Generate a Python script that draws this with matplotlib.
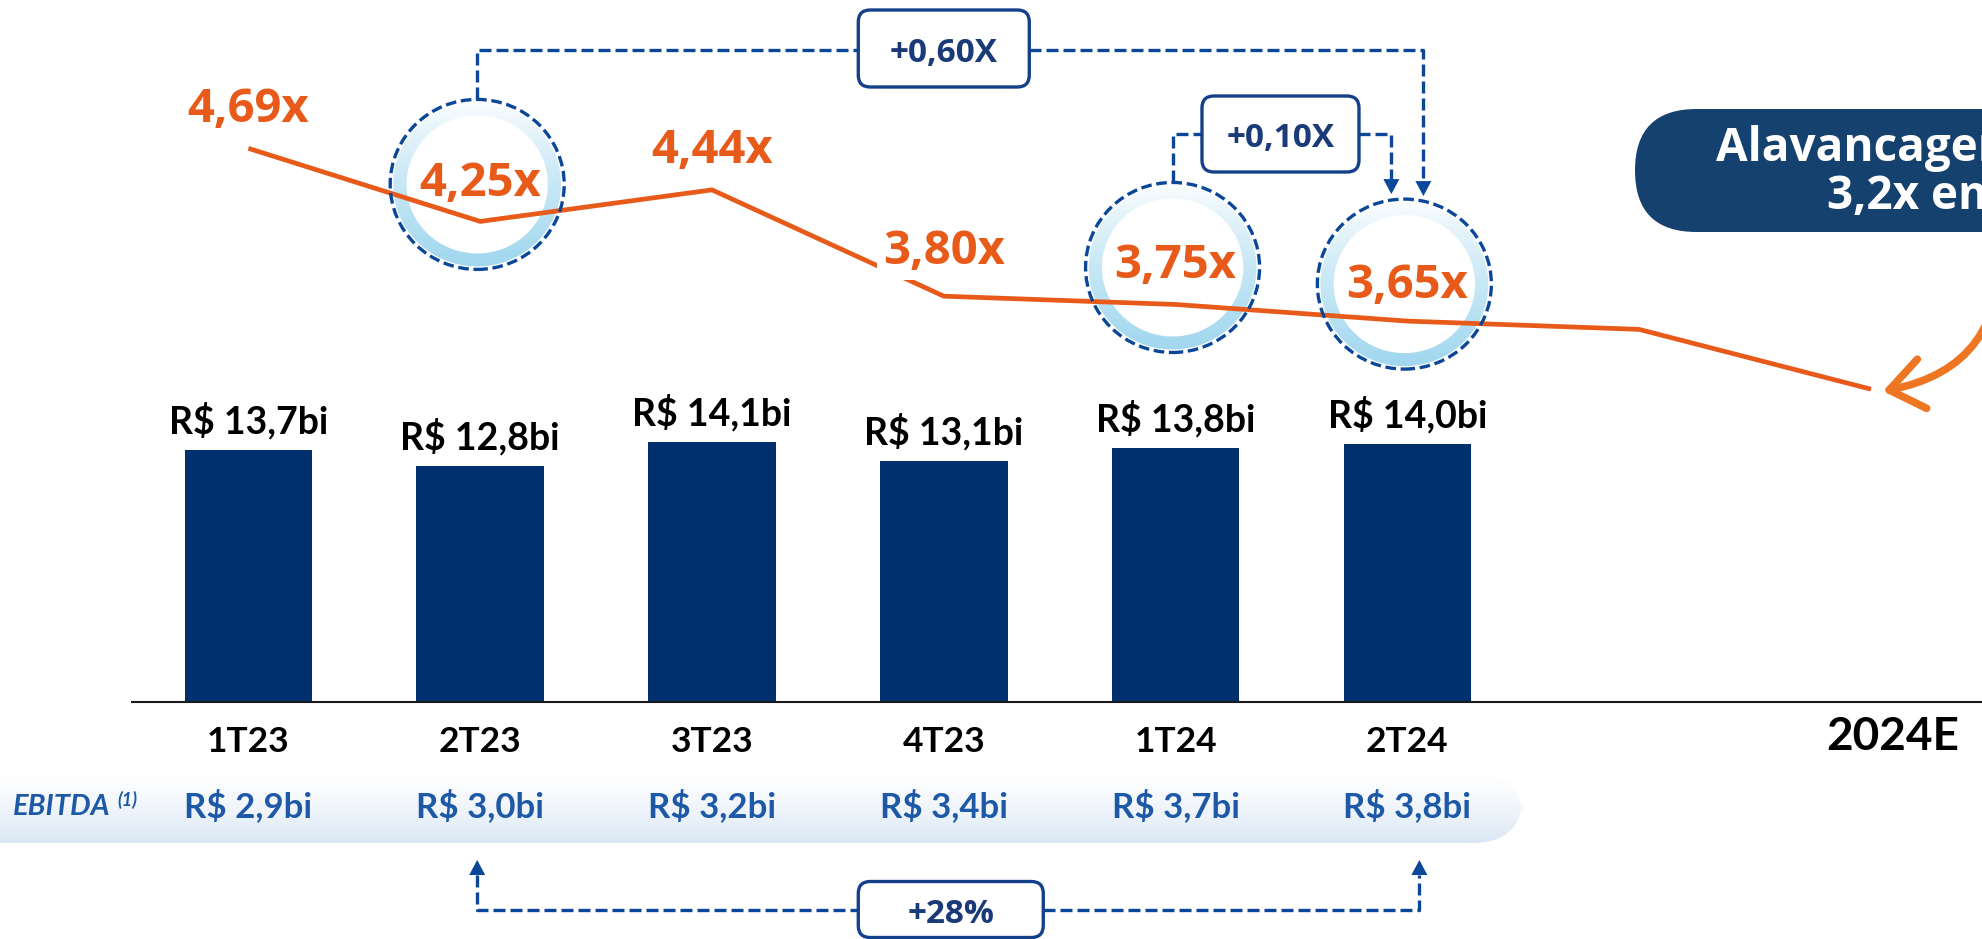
import numpy as np
import matplotlib
matplotlib.use("Agg")
import matplotlib.pyplot as plt
from matplotlib.patches import FancyBboxPatch, Ellipse, Polygon, FancyArrowPatch
from matplotlib import font_manager

# ---------------- data ----------------
quarters = ["1T23", "2T23", "3T23", "4T23", "1T24", "2T24"]
net_debt_bi = [13.7, 12.8, 14.1, 13.1, 13.8, 14.0]
debt_labels = ["R$ 13,7bi", "R$ 12,8bi", "R$ 14,1bi", "R$ 13,1bi", "R$ 13,8bi", "R$ 14,0bi"]
ebitda_labels = ["R$ 2,9bi", "R$ 3,0bi", "R$ 3,2bi", "R$ 3,4bi", "R$ 3,7bi", "R$ 3,8bi"]
leverage = [4.69, 4.25, 4.44, 3.80, 3.75, 3.65, 3.60, 3.24]
leverage_labels = ["4,69x", "4,25x", "4,44x", "3,80x", "3,75x", "3,65x"]
forecast_label = "2024E"
highlight_idx = [1, 4, 5]
delta_labels = ["+0,60X", "+0,10X", "+28%"]
ebitda_title = "EBITDA"
ebitda_note = "(1)"
callout_lines = ["Alavancagem esperada", "3,2x em 2024"]

# ---------------- style ----------------
W, H = 1982, 939
BAR_C = "#00306E"
ORANGE = "#E85A19"
ORANGE2 = "#EE7623"
DASH_C = "#0A4799"
BOX_EC = "#14408A"
BOX_TXT = "#1B3A78"
EB_BLUE = "#1D59A6"
PILL_C = "#15416F"


def fam(*names):
    avail = {f.name for f in font_manager.fontManager.ttflist}
    for n in names:
        if n in avail:
            return n
    return "DejaVu Sans"


F_CAL = fam("Lato", "Open Sans", "DejaVu Sans")
F_SEG = fam("Open Sans", "Noto Sans", "DejaVu Sans")

fig = plt.figure(figsize=(W / 100, H / 100), dpi=100)
fig.patch.set_facecolor("white")

axb = fig.add_axes([0, 0, 1, 1], label="back")
ax = fig.add_axes([0, 0, 1, 1], label="bars")
ax2 = ax.twinx()
axf = fig.add_axes([0, 0, 1, 1], label="front")
axb.set_zorder(0)
ax.set_zorder(1)
ax2.set_zorder(2)
axf.set_zorder(3)
for a in (axb, axf):
    a.set_xlim(0, W)
    a.set_ylim(0, H)
    a.axis("off")
    a.patch.set_visible(False)
ax.patch.set_visible(False)
ax.set_xlim(-1.0716, 7.479)
ax.set_ylim(-12.92, 38.17)
ax2.set_ylim(-0.070, 5.583)
ax.axis("off")
ax2.axis("off")


def up(y):
    return H - y


x6 = np.arange(len(quarters))
xl = np.arange(len(leverage))

# ---------------- bars ----------------
ax.bar(x6, net_debt_bi, width=0.55, color=BAR_C, zorder=2)
ax.plot([-0.5, 8], [0, 0], color="#1a1a1a", lw=1.5, zorder=3, clip_on=True)
for i, (v, lab) in enumerate(zip(net_debt_bi, debt_labels)):
    ax.annotate(lab, (i, v), xytext=(0, 12), textcoords="offset points",
                ha="center", va="baseline", fontsize=27, fontweight="bold",
                family=F_CAL, color="black", zorder=4)
for i, q in enumerate(quarters):
    ax.annotate(q, (i, 0), xytext=(0, -36.1), textcoords="offset points",
                ha="center", va="baseline", fontsize=25.5, fontweight="bold",
                family=F_CAL, color="black")
    ax.annotate(ebitda_labels[i], (i, 0), xytext=(0, -82.9), textcoords="offset points",
                ha="center", va="baseline", fontsize=25, fontweight="bold",
                family=F_CAL, color=EB_BLUE, zorder=4)
ax.annotate(forecast_label, (xl[-1], 0), xytext=(16, -34.9), textcoords="offset points",
            ha="center", va="baseline", fontsize=33, fontweight="bold",
            family=F_CAL, color="black")

# EBITDA band (gradient, rounded bottom-right)
band_top, band_bot, band_right = 772, 843, 1523
grad = np.linspace(0, 1, 100) ** 1.3
c0 = np.array([1.0, 1.0, 1.0])
c1 = np.array([0xDA, 0xE7, 0xF4]) / 255
img = (c0[None, :] * (1 - grad[:, None]) + c1[None, :] * grad[:, None])[:, None, :]
img = np.repeat(img, 2, axis=1)
im = axb.imshow(img, extent=(-100, band_right, up(band_bot), up(band_top)),
                origin="upper", aspect="auto", interpolation="bilinear", zorder=0)
clip = FancyBboxPatch((-100, up(band_bot)), band_right + 100, band_bot - band_top,
                      boxstyle="round,pad=0,rounding_size=50", fc="none", ec="none",
                      transform=axb.transData)
axb.add_patch(clip)
im.set_clip_path(clip)
axb.set_xlim(0, W)
axb.set_ylim(0, H)
axf.text(13, up(815), ebitda_title, ha="left", va="baseline", fontsize=21,
         fontweight="bold", style="italic", family=F_CAL, color=EB_BLUE)
axf.text(117, up(806), ebitda_note, ha="left", va="baseline", fontsize=13,
         fontweight="bold", style="italic", family=F_CAL, color=EB_BLUE)

# ---------------- leverage line ----------------
ax2.plot(xl, leverage, color=ORANGE, lw=3.4, solid_joinstyle="miter",
         solid_capstyle="butt", zorder=3)
lab_off = [19.1, 18.6, 19.1, 23.5, 19.1, 16.4]
for i, lab in enumerate(leverage_labels):
    kw = {}
    if i == 3:
        kw["bbox"] = dict(fc="white", ec="none", pad=4)
    ax2.annotate(lab, (i, leverage[i]), xytext=(0, lab_off[i]), textcoords="offset points",
                 ha="center", va="baseline", fontsize=34, fontweight="bold",
                 family=F_SEG, color=ORANGE, zorder=5, **kw)

# ---------------- highlight circles ----------------
RX, RY = 87, 85
centers = {}
for i in highlight_idx:
    px, py = ax2.transData.transform((xl[i], leverage[i]))
    cx, cy = px - 3, py + 37
    centers[i] = (cx, cy)
    pad = 3
    xs = np.arange(np.floor(cx - RX - pad), np.ceil(cx + RX + pad))
    ys = np.arange(np.floor(cy - RY - pad), np.ceil(cy + RY + pad))
    X, Y = np.meshgrid(xs + 0.5, ys + 0.5)
    d = np.sqrt(((X - cx) / RX) ** 2 + ((Y - cy) / RY) ** 2)
    r_in = (1 - d) * min(RX, RY)
    a_ring = np.clip(r_in - 2.5, 0, 1) * np.clip(16.5 - r_in, 0, 1)
    s = np.clip((cy + RY - Y) / (2 * RY), 0, 1)
    alpha = a_ring * s ** 0.8
    rgba = np.zeros(X.shape + (4,))
    rgba[..., 0], rgba[..., 1], rgba[..., 2] = 0.62, 0.84, 0.94
    rgba[..., 3] = alpha
    axb.imshow(rgba, extent=(xs[0], xs[-1] + 1, ys[0], ys[-1] + 1), origin="lower",
               aspect="auto", interpolation="bilinear", zorder=1)
    axf.add_patch(Ellipse((cx, cy), 2 * RX, 2 * RY, fill=False, ec=DASH_C, lw=2.4,
                          ls=(0, (3.2, 1.4))))
axb.set_xlim(0, W)
axb.set_ylim(0, H)

DASH = (0, (3.6, 1.5))


def dline(pts):
    pts = np.array(pts)
    axf.plot(pts[:, 0], pts[:, 1], color=DASH_C, lw=2.4, ls=DASH,
             solid_capstyle="butt", dash_capstyle="butt")


def arrowhead(x, ytip, direction):
    # direction -1: pointing down ; +1 pointing up
    base = ytip - direction * 15
    axf.add_patch(Polygon([(x, ytip), (x - 8, base), (x + 8, base)], closed=True,
                          fc=DASH_C, ec="none"))
    return base


def box(cx, cy, w, h, text):
    axf.add_patch(FancyBboxPatch((cx - w / 2, cy - h / 2), w, h,
                                 boxstyle="round,pad=0,rounding_size=12",
                                 fc="white", ec=BOX_EC, lw=2.4, zorder=3))
    axf.text(cx, cy - 13.4, text, ha="center", va="baseline", fontsize=24,
             fontweight="bold", family=F_SEG, color=BOX_TXT, zorder=4)


c1x, c1y = centers[highlight_idx[0]]
c2x, c2y = centers[highlight_idx[1]]
c3x, c3y = centers[highlight_idx[2]]

# +0,60X connector
b1x = ax2.transData.transform((3, 0))[0]
b1y = up(48.5)
lev1 = up(50)
dline([(c1x, c1y + RY), (c1x, lev1), (b1x - 85, lev1)])
ax_r = c3x + 19
base = arrowhead(ax_r, c3y + RY + 3, -1)
dline([(b1x + 85, lev1), (ax_r, lev1), (ax_r, base)])
box(b1x, b1y, 171, 77, delta_labels[0])

# +0,10X connector
b2x = (c2x + c3x) / 2 - 8
b2y = up(134)
dline([(c2x, c2y + RY), (c2x, b2y), (b2x - 78, b2y)])
ax_l = c3x - 13
base = arrowhead(ax_l, c3y + RY + 5, -1)
dline([(b2x + 78, b2y), (ax_l, b2y), (ax_l, base)])
box(b2x, b2y, 157, 76, delta_labels[1])

# +28% connector (EBITDA growth)
xa = ax.transData.transform((1, 0))[0] - 3
xb = ax.transData.transform((5, 0))[0] + 12
b3x = ax.transData.transform((3, 0))[0] + 7
b3y = up(909.5)
base = arrowhead(xa, up(860), +1)
dline([(xa, base), (xa, b3y), (b3x - 92, b3y)])
base = arrowhead(xb, up(860), +1)
dline([(b3x + 92, b3y), (xb, b3y), (xb, base)])
box(b3x, b3y, 185, 56, delta_labels[2])

# ---------------- callout pill + curved arrow ----------------
axf.add_patch(FancyBboxPatch((1635, up(232)), 520, 123,
                             boxstyle="round,pad=0,rounding_size=61.5",
                             fc=PILL_C, ec="none", clip_on=False))
axf.text(1716, up(160.5), callout_lines[0], ha="left", va="baseline", fontsize=33,
         fontweight="bold", family=F_SEG, color="white")
axf.text(1827, up(209.3), callout_lines[1], ha="left", va="baseline", fontsize=33,
         fontweight="bold", family=F_SEG, color="white")

end_px = ax2.transData.transform((xl[-1], leverage[-1]))
arr = FancyArrowPatch(posA=(1998, up(240)), posB=(end_px[0] + 12, end_px[1] - 2),
                      connectionstyle="arc3,rad=-0.45",
                      arrowstyle="->,head_length=0.8,head_width=0.6",
                      mutation_scale=30, lw=5.5, color=ORANGE2,
                      shrinkA=0, shrinkB=0, capstyle="round", joinstyle="round")
axf.add_patch(arr)

fig.savefig("out.png", dpi=100, facecolor="white")
